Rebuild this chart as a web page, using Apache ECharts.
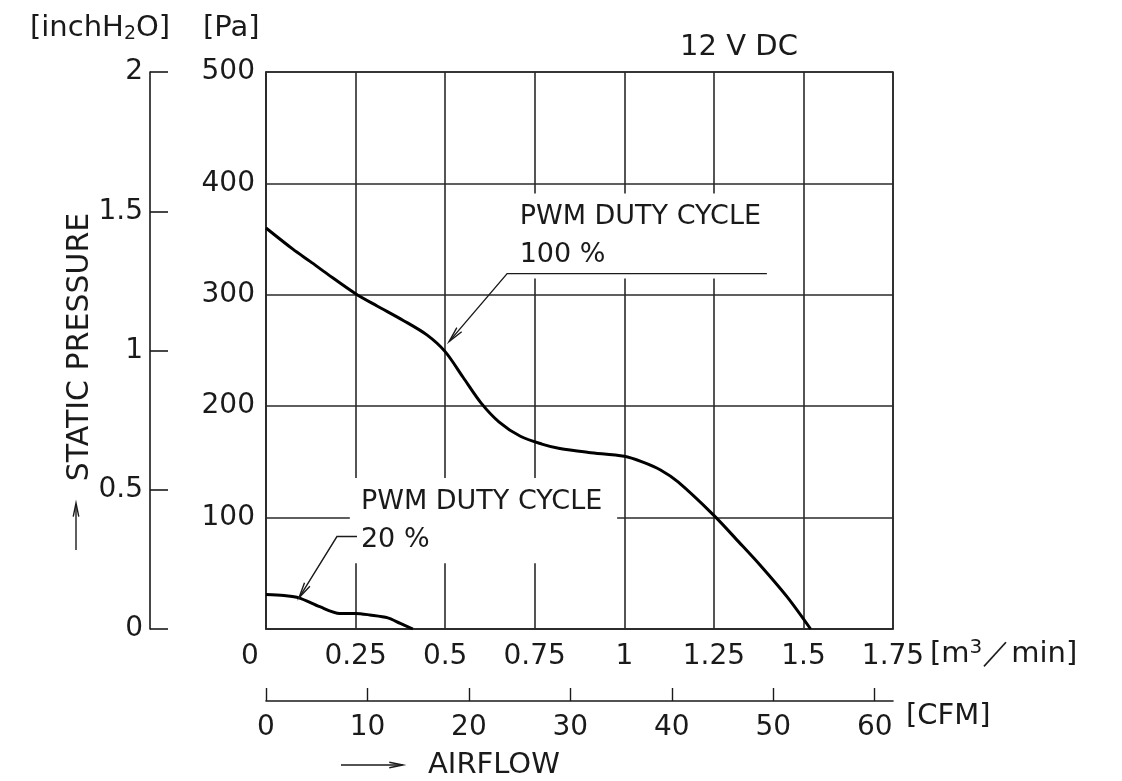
<!DOCTYPE html>
<html>
<head>
<meta charset="utf-8">
<script src="https://cdn.jsdelivr.net/npm/echarts@6/dist/echarts.min.js"></script>
<style>
  html, body { margin: 0; padding: 0; background: #fff; }
  #main { width: 1122px; height: 781px; }
</style>
</head>
<body>
<div id="main"></div>
<script>
// airflow [m3/min] and static pressure [Pa]
const flow100 = [0, 0.075, 0.123, 0.17, 0.25, 0.31, 0.383, 0.449, 0.5, 0.55, 0.6, 0.65, 0.71, 0.77, 0.82, 0.9, 1.0, 1.05, 1.1, 1.15, 1.25, 1.32, 1.38, 1.454, 1.52];
const pa100   = [360, 341, 330, 319, 301, 290, 277, 264, 249, 226, 203, 186, 173, 166, 162, 158.5, 155, 150, 143, 132, 102, 78, 57, 29, 0];

const flow20 = [0, 0.05, 0.092, 0.15, 0.206, 0.25, 0.29, 0.34, 0.375, 0.41];
const pa20   = [31, 30, 28, 20, 14, 14, 12.6, 10, 5, 0];

const cfmTicks = [0, 10, 20, 30, 40, 50, 60];
const CFM_TO_M3 = 0.0283168;

// label callouts, in data units (m3/min, Pa)
const note100 = { lines: ['PWM DUTY CYCLE', '100 %'], tip: [0.511, 258], elbow: [0.673, 319], end: [1.398, 319], box: [[0.667, 391], [1.406, 314.6]], at: [0.708, 0] };
const note20  = { lines: ['PWM DUTY CYCLE', '20 %'], tip: [0.092, 28], elbow: [0.198, 83], end: [0.254, 83], box: [[0.234, 135.5], [0.98, 59]], at: [0.265, 0] };

const FONT = 'DejaVu Sans';
const INK = '#1a1a1a';
const GRIDC = '#2a2a2a';
const TICKFS = 28;

let chart = echarts.init(document.getElementById('main'));

let option = {
    animation: false,
    grid: {
        left: 266, top: 72, width: 627, height: 557,
        show: true, borderColor: GRIDC, borderWidth: 1.6
    },
    xAxis: [{
        type: 'value', min: 0, max: 1.75, interval: 0.25,
        axisLine: { show: true, lineStyle: { color: GRIDC, width: 1.6 } },
        axisTick: { show: false },
        splitLine: { show: true, lineStyle: { color: GRIDC, width: 1.6 } },
        axisLabel: {
            margin: 14, color: INK, fontFamily: FONT, fontSize: TICKFS,
            formatter: v => v === 0 ? '{z|0}' : String(v),
            rich: { z: { fontFamily: FONT, fontSize: TICKFS, color: INK, padding: [0, 32, 0, 0] } }
        }
    }, {
        type: 'value', position: 'bottom', offset: 72,
        min: 0, max: 1.75 / CFM_TO_M3,
        axisLine: { show: true, onZero: false, lineStyle: { color: INK, width: 1.6 } },
        axisTick: { show: true, inside: true, length: 13, customValues: cfmTicks, lineStyle: { color: INK, width: 1.4 } },
        splitLine: { show: false },
        axisLabel: { customValues: cfmTicks, margin: 13, color: INK, fontFamily: FONT, fontSize: TICKFS }
    }],
    yAxis: [{
        type: 'value', min: 0, max: 500, interval: 100,
        axisLine: { show: true, lineStyle: { color: GRIDC, width: 1.6 } },
        axisTick: { show: false },
        splitLine: { show: true, lineStyle: { color: GRIDC, width: 1.6 } },
        axisLabel: {
            margin: 11, color: INK, fontFamily: FONT, fontSize: TICKFS,
            formatter: v => v === 0 ? '' : String(v)
        }
    }, {
        type: 'value', position: 'left', offset: 116,
        min: 0, max: 2, interval: 0.5,
        axisLine: { show: true, onZero: false, lineStyle: { color: INK, width: 1.6 } },
        axisTick: { show: true, inside: true, length: 18, lineStyle: { color: INK, width: 1.6 } },
        splitLine: { show: false },
        axisLabel: { margin: 7, color: INK, fontFamily: FONT, fontSize: TICKFS }
    }],
    series: [{
        name: '100%', type: 'line', smooth: 0.3,
        showSymbol: false, z: 5,
        lineStyle: { color: '#000', width: 3 },
        data: flow100.map((q, i) => [q, pa100[i]])
    }, {
        name: '20%', type: 'line', smooth: 0.3,
        showSymbol: false, z: 5,
        lineStyle: { color: '#000', width: 3 },
        data: flow20.map((q, i) => [q, pa20[i]])
    }]
};

chart.setOption(option);

const px = (d) => chart.convertToPixel({ seriesIndex: 0 }, d);

const txt = (text, x, y, extra) => Object.assign({
    type: 'text', z: 110,
    style: Object.assign({ text: text, x: x, y: y, fill: INK, fontFamily: FONT, fontSize: 27, textVerticalAlign: 'middle' }, extra || {})
});

const arrowHead = (tip, from, len, half) => {
    let a = Math.atan2(from[1] - tip[1], from[0] - tip[0]);
    let p1 = [tip[0] + len * Math.cos(a + half), tip[1] + len * Math.sin(a + half)];
    let p2 = [tip[0] + len * Math.cos(a - half), tip[1] + len * Math.sin(a - half)];
    return { type: 'polyline', z: 111, shape: { points: [p1, tip, p2] }, style: { stroke: INK, lineWidth: 1.4, fill: null } };
};

const callout = (n) => {
    let b0 = px(n.box[0]), b1 = px(n.box[1]);
    let tip = px(n.tip), elbow = px(n.elbow), end = px(n.end);
    let tx = px(n.at)[0];
    return [
        { type: 'rect', z: 100, shape: { x: b0[0], y: b0[1], width: b1[0] - b0[0], height: b1[1] - b0[1] }, style: { fill: '#fff' } },
        txt(n.lines[0], tx, b0[1] + 24),
        txt(n.lines[1], tx, b0[1] + 62),
        { type: 'polyline', z: 111, shape: { points: [end, elbow, tip] }, style: { stroke: INK, lineWidth: 1.4, fill: null } },
        arrowHead(tip, elbow, 16, 0.2)
    ];
};

let elements = [].concat(
    callout(note100),
    callout(note20),
    [
        txt('[inchH{sub|2}O]', 30, 28, {
            fontSize: 29,
            rich: { sub: { fontFamily: FONT, fontSize: 19, fill: INK, verticalAlign: 'bottom', padding: [12, 0, 0, 0] } }
        }),
        txt('[Pa]', 203, 28, { fontSize: 29 }),
        txt('12 V DC', 739, 47, { fontSize: 29, textAlign: 'center' }),
        txt('[m{sup|3}／min]', 930, 654, {
            fontSize: 29,
            rich: { sup: { fontFamily: FONT, fontSize: 20, fill: INK, verticalAlign: 'top', padding: [0, 0, 12, 0] } }
        }),
        txt('[CFM]', 906, 716, { fontSize: 29 }),
        txt('AIRFLOW', 428, 765, { fontSize: 29 }),
        {
            type: 'text', z: 110, rotation: Math.PI / 2, x: 80, y: 347,
            style: { text: 'STATIC PRESSURE', fill: INK, fontFamily: FONT, fontSize: 30, textAlign: 'center', textVerticalAlign: 'middle' }
        },
        { type: 'line', z: 111, shape: { x1: 76, y1: 550, x2: 76, y2: 504 }, style: { stroke: INK, lineWidth: 1.4 } },
        arrowHead([76, 503], [76, 550], 14, 0.2),
        { type: 'line', z: 111, shape: { x1: 341, y1: 765, x2: 402, y2: 765 }, style: { stroke: INK, lineWidth: 1.4 } },
        arrowHead([403, 765], [341, 765], 14, 0.2)
    ]
);

chart.setOption({ graphic: { elements: elements } });
</script>
</body>
</html>
